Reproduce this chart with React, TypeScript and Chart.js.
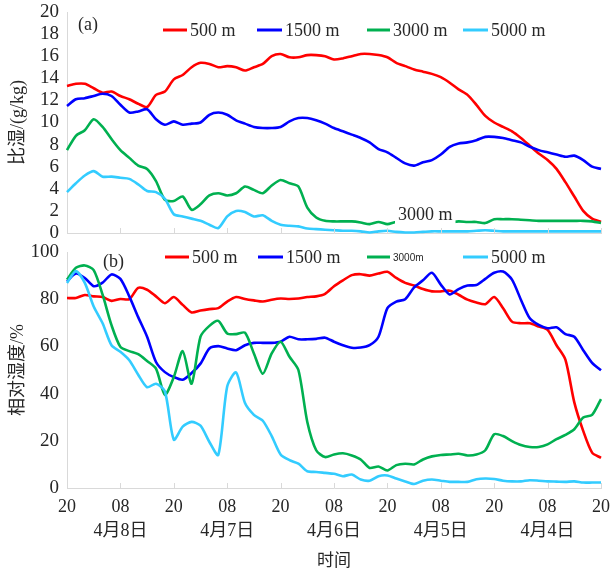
import React, { useEffect, useRef } from 'react';
import { Chart, registerables } from 'chart.js';
Chart.register(...registerables);

// ---- data (hours from the start, 2-hour steps) ----
const hours = [0, 2, 4, 6, 8, 10, 12, 14, 16, 18, 20, 22, 24, 26, 28, 30, 32, 34, 36, 38, 40, 42, 44, 46, 48, 50, 52, 54, 56, 58, 60, 62, 64, 66, 68, 70, 72, 74, 76, 78, 80, 82, 84, 86, 88, 90, 92, 94, 96, 98, 100, 102, 104, 106, 108, 110, 112, 114, 116, 118, 120];
const tickHours = [0, 12, 24, 36, 48, 60, 72, 84, 96, 108, 120];
const tickTimeLabels = ['20', '08', '20', '08', '20', '08', '20', '08', '20', '08', '20'];
const tickDateLabels = ['', '4月8日', '', '4月7日', '', '4月6日', '', '4月5日', '', '4月4日', ''];
const seriesNames = ['500 m', '1500 m', '3000 m', '5000 m'];
const rhSeriesNames = ['500 m', '1500 m', '3000m', '5000 m'];

const shRed = [13.3, 13.5, 13.5, 13.1, 12.7, 12.8, 12.4, 12.1, 11.7, 11.4,
  12.5, 12.8, 13.9, 14.3, 15.0, 15.4, 15.3, 15.0, 15.1, 15.0,
  14.7, 15.0, 15.3, 16.0, 16.2, 15.9, 15.9, 16.1, 16.1, 16.0,
  15.7, 15.8, 16.0, 16.2, 16.2, 16.1, 15.9, 15.4, 15.1, 14.8,
  14.6, 14.4, 14.1, 13.6, 13.0, 12.5, 11.6, 10.6, 10.0, 9.6,
  9.2, 8.6, 7.9, 7.2, 6.6, 5.8, 4.6, 3.3, 2.0, 1.3,
  1.0];
const shBlue = [11.5, 12.1, 12.2, 12.4, 12.6, 12.4, 11.6, 10.9, 11.0, 11.2,
  10.3, 9.8, 10.1, 9.8, 9.9, 10.0, 10.7, 10.9, 10.7, 10.2,
  9.9, 9.6, 9.5, 9.5, 9.6, 10.1, 10.4, 10.4, 10.2, 9.9,
  9.5, 9.2, 8.9, 8.6, 8.2, 7.6, 7.3, 6.8, 6.3, 6.1,
  6.4, 6.6, 7.1, 7.8, 8.1, 8.2, 8.4, 8.7, 8.7, 8.6,
  8.4, 8.2, 7.8, 7.5, 7.3, 7.1, 6.9, 7.0, 6.6, 6.0,
  5.8];
const shGreen = [7.5, 8.8, 9.3, 10.3, 9.6, 8.5, 7.5, 6.8, 6.1, 5.8,
  4.7, 3.0, 2.9, 3.3, 2.1, 2.6, 3.4, 3.6, 3.4, 3.6,
  4.2, 3.9, 3.6, 4.3, 4.8, 4.5, 4.2, 2.3, 1.4, 1.1,
  1.05, 1.05, 1.05, 0.95, 0.8, 1.0, 0.8, 1.0, 0.9, 0.9,
  0.85, 0.9, 0.9, 0.95, 1.05, 1.0, 1.0, 0.9, 1.25, 1.25,
  1.25, 1.2, 1.15, 1.1, 1.1, 1.1, 1.1, 1.1, 1.1, 1.05,
  0.9];
const shCyan = [3.7, 4.5, 5.2, 5.6, 5.1, 5.1, 5.0, 4.9, 4.4, 3.8,
  3.7, 3.1, 1.7, 1.5, 1.3, 1.1, 0.75, 0.45, 1.5, 2.0,
  1.9, 1.5, 1.6, 1.1, 0.75, 0.65, 0.6, 0.4, 0.35, 0.3,
  0.25, 0.2, 0.2, 0.15, 0.05, 0.15, 0.2, 0.1, 0.05, 0.05,
  0.1, 0.15, 0.15, 0.15, 0.15, 0.15, 0.2, 0.25, 0.2, 0.15,
  0.15, 0.15, 0.15, 0.15, 0.15, 0.15, 0.15, 0.15, 0.15, 0.15,
  0.15];

const rhRed = [80.5, 80.5, 81.8, 81.2, 80.9, 79.3, 80.1, 80.0, 84.8, 84.0,
  81.2, 78.3, 80.9, 77.6, 74.4, 75.2, 75.8, 76.2, 79.0, 80.9,
  80.1, 79.5, 79.0, 79.8, 80.3, 80.1, 80.3, 80.9, 81.2, 82.3,
  85.5, 88.0, 90.2, 90.6, 90.0, 90.9, 91.6, 89.0, 86.9, 85.8,
  84.3, 83.3, 83.3, 83.6, 81.9, 79.8, 78.6, 77.9, 80.9, 76.2,
  70.5, 69.8, 69.8, 68.4, 67.0, 60.5, 54.4, 36.3, 24.2, 15.0,
  12.8];
const rhBlue = [87.6, 90.9, 89.0, 85.5, 87.0, 90.5, 88.6, 81.2, 72.4, 64.1,
  53.4, 49.1, 47.0, 45.9, 48.7, 52.7, 59.1, 60.1, 59.1, 58.4,
  60.5, 61.5, 61.5, 61.5, 62.0, 64.1, 63.0, 63.0, 63.2, 63.7,
  62.0, 60.5, 59.4, 59.5, 60.5, 64.1, 76.2, 79.0, 80.0, 85.0,
  88.0, 91.2, 86.2, 82.0, 84.3, 85.8, 86.0, 88.6, 91.2, 91.7,
  88.3, 79.8, 71.9, 69.1, 67.7, 68.1, 65.2, 64.1, 58.4, 53.0,
  49.9];
const rhGreen = [88.3, 93.3, 94.3, 92.3, 81.9, 69.0, 59.8, 58.0, 56.7, 53.8,
  50.6, 39.5, 47.0, 58.0, 44.2, 64.1, 68.7, 70.8, 65.5, 65.2,
  65.8, 57.0, 48.4, 57.0, 62.0, 55.6, 50.0, 28.0, 16.0, 13.1,
  14.2, 14.7, 13.8, 12.1, 8.5, 9.1, 7.4, 9.7, 10.3, 10.0,
  12.1, 13.4, 14.0, 14.2, 14.5, 13.8, 14.2, 16.0, 22.8, 22.0,
  19.9, 18.2, 17.4, 17.4, 18.5, 20.7, 22.5, 24.9, 29.9, 31.0,
  37.7];
const rhCyan = [86.9, 91.9, 86.9, 76.9, 69.8, 60.5, 57.7, 54.1, 48.0, 42.7,
  44.2, 41.0, 20.5, 26.0, 28.0, 26.4, 19.5, 14.0, 43.0, 49.0,
  36.0, 31.0, 28.5, 22.0, 14.2, 11.8, 10.3, 7.1, 6.8, 6.4,
  6.0, 5.0, 5.7, 3.6, 3.1, 5.0, 5.3, 4.0, 2.8, 1.7,
  3.1, 3.6, 3.1, 2.6, 2.6, 2.6, 3.7, 4.0, 3.8, 3.1,
  2.8, 2.8, 3.3, 3.1, 2.8, 2.7, 2.6, 2.8, 2.3, 2.3,
  2.3];

// ---- styles ----
const COLORS = ['#ff0000', '#0000ff', '#00b050', '#33ccff'];
const AXIS = '#d9d9d9';
const TEXT = '#262626';
const SERIF = "'Liberation Serif', 'Noto Sans CJK SC', serif";

const overlayPlugin = {
  id: 'overlay',
  afterDraw(chart: any, _args: any, opts: any) {
    const ctx = chart.ctx;
    const area = chart.chartArea;
    const xs = chart.scales.x;
    ctx.save();
    // inward tick marks
    ctx.strokeStyle = AXIS;
    ctx.lineWidth = 1;
    tickHours.forEach((h) => {
      const px = Math.round(xs.getPixelForValue(h)) + 0.5;
      ctx.beginPath();
      ctx.moveTo(px, area.bottom);
      ctx.lineTo(px, area.bottom - 5);
      ctx.stroke();
    });
    // annotation with white backing
    if (opts.note) {
      const n = opts.note;
      ctx.font = `18px ${SERIF}`;
      const w = ctx.measureText(n.text).width;
      ctx.fillStyle = '#ffffff';
      ctx.fillRect(n.x - 3, n.y - 11, w + 6, 21);
      ctx.fillStyle = TEXT;
      ctx.textBaseline = 'middle';
      ctx.textAlign = 'left';
      ctx.fillText(n.text, n.x, n.y);
    }
    // panel label
    ctx.fillStyle = TEXT;
    ctx.textBaseline = 'middle';
    ctx.textAlign = 'left';
    ctx.font = `18px ${SERIF}`;
    ctx.fillText(opts.panel.text, opts.panel.x, opts.panel.y);
    // legend
    opts.legend.forEach((it: any, i: number) => {
      ctx.strokeStyle = COLORS[i];
      ctx.lineWidth = 3;
      ctx.beginPath();
      ctx.moveTo(it.x0, opts.legendY);
      ctx.lineTo(it.x1, opts.legendY);
      ctx.stroke();
      ctx.fillStyle = TEXT;
      ctx.font = it.font;
      ctx.fillText(it.text, it.x1 + 3, opts.legendY + 1);
    });
    ctx.restore();
  },
};

function makeDatasets(arrs: number[][]) {
  return arrs.map((arr, i) => ({
    label: seriesNames[i],
    data: arr.map((y, j) => ({ x: hours[j], y })),
    borderColor: COLORS[i],
    backgroundColor: COLORS[i],
    borderWidth: 2.6,
    pointRadius: 0,
    tension: 0.25,
    clip: 4,
    order: 4 - i,
  }));
}

function xScale(showLabels: boolean, height: number) {
  return {
    type: 'linear',
    min: 0,
    max: 120,
    afterBuildTicks: (s: any) => { s.ticks = tickHours.map((v) => ({ value: v })); },
    afterFit: (s: any) => { s.height = height; s.paddingLeft = 0; s.paddingRight = 0; },
    grid: { display: false, drawTicks: false },
    border: { display: true, color: AXIS, width: 1 },
    ticks: {
      display: showLabels,
      autoSkip: false,
      maxRotation: 0,
      padding: 7,
      color: TEXT,
      font: { family: SERIF, size: 18, lineHeight: 1.33 },
      callback: (v: number) => {
        const i = tickHours.indexOf(v);
        if (i < 0) return '';
        return tickDateLabels[i] ? [tickTimeLabels[i], tickDateLabels[i]] : tickTimeLabels[i];
      },
    },
    title: showLabels
      ? { display: true, text: '时间', color: TEXT, font: { family: SERIF, size: 17 }, padding: { top: 0, bottom: -2 } }
      : { display: false },
  };
}

function yScale(max: number, step: number, title: string) {
  return {
    min: 0,
    max,
    afterFit: (s: any) => { s.width = 67; s.paddingTop = 0; s.paddingBottom = 0; },
    grid: { display: false, drawTicks: false },
    border: { display: true, color: AXIS, width: 1 },
    ticks: { stepSize: step, autoSkip: false, padding: 8, color: TEXT, font: { family: SERIF, size: 19 } },
    title: { display: true, text: title, color: TEXT, font: { family: SERIF, size: 18 }, padding: { top: 7, bottom: 0 } },
  };
}

export default function App() {
  const topRef = useRef<HTMLCanvasElement>(null);
  const botRef = useRef<HTMLCanvasElement>(null);

  useEffect(() => {
    const common = {
      responsive: false,
      animation: false,
      devicePixelRatio: 1,
      events: [],
    };
    const top = new Chart(topRef.current as HTMLCanvasElement, {
      type: 'line',
      data: { datasets: makeDatasets([shRed, shBlue, shGreen, shCyan]) as any },
      options: {
        ...common,
        layout: { padding: { top: 12, right: 11, left: 0, bottom: 0 } },
        plugins: {
          legend: { display: false },
          tooltip: { enabled: false },
          overlay: {
            legendY: 30,
            legend: [
              { x0: 163, x1: 187, text: seriesNames[0], font: `18px ${SERIF}` },
              { x0: 257, x1: 282, text: seriesNames[1], font: `18px ${SERIF}` },
              { x0: 367, x1: 390, text: seriesNames[2], font: `18px ${SERIF}` },
              { x0: 463, x1: 488, text: seriesNames[3], font: `18px ${SERIF}` },
            ],
            panel: { text: '(a)', x: 78, y: 25 },
            note: { text: seriesNames[2], x: 398, y: 215 },
          },
        },
        scales: { x: xScale(false, 12), y: yScale(20, 2, '比湿/(g/kg)') },
      } as any,
      plugins: [overlayPlugin],
    });
    const bot = new Chart(botRef.current as HTMLCanvasElement, {
      type: 'line',
      data: { datasets: makeDatasets([rhRed, rhBlue, rhGreen, rhCyan]) as any },
      options: {
        ...common,
        layout: { padding: { top: 12, right: 11, left: 0, bottom: 0 } },
        plugins: {
          legend: { display: false },
          tooltip: { enabled: false },
          overlay: {
            legendY: 17,
            legend: [
              { x0: 165, x1: 189, text: rhSeriesNames[0], font: `18px ${SERIF}` },
              { x0: 258, x1: 283, text: rhSeriesNames[1], font: `18px ${SERIF}` },
              { x0: 367, x1: 390, text: rhSeriesNames[2], font: `10px 'Liberation Sans', sans-serif` },
              { x0: 463, x1: 488, text: rhSeriesNames[3], font: `18px ${SERIF}` },
            ],
            panel: { text: '(b)', x: 103, y: 22 },
          },
        },
        scales: { x: xScale(true, 82), y: yScale(100, 20, '相对湿度/%') },
      } as any,
      plugins: [overlayPlugin],
    });
    return () => { top.destroy(); bot.destroy(); };
  }, []);

  return (
    <div style={{ position: 'absolute', left: 0, top: 0, width: 612, height: 570, background: '#fff' }}>
      <canvas ref={topRef} width={612} height={245} style={{ position: 'absolute', left: 0, top: 0 }} />
      <canvas ref={botRef} width={612} height={330} style={{ position: 'absolute', left: 0, top: 240 }} />
    </div>
  );
}
